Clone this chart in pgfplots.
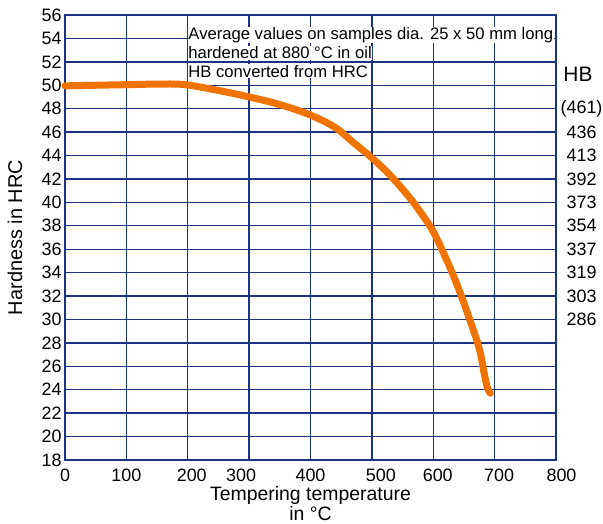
\documentclass[border=0pt]{standalone}
\usepackage{fontspec}
\setmainfont{Liberation Sans}
\usepackage{pgfplots}
\pgfplotsset{compat=1.18}
\definecolor{gridblue}{RGB}{28,50,130}
\definecolor{curveorange}{RGB}{240,115,0}

\begin{document}
\begin{tikzpicture}
\begin{axis}[
  name=main,
  scale only axis,
  width=491bp, height=445bp,
  xmin=0, xmax=800, ymin=18, ymax=56,
  xtick={0,100,...,800},
  xticklabels={0,100,\hspace*{8bp}200,300\hspace*{16bp},400,\hspace*{18bp}500,\hspace*{9bp}600,\hspace*{9bp}700,\hspace*{11bp}800},
  ytick={18,20,...,56},
  grid=major,
  major grid style={gridblue, line width=1.4bp},
  axis line style={gridblue, line width=1.5bp},
  major tick length=0pt,
  tick label style={font=\fontsize{18}{20}\selectfont},
  xticklabel style={yshift=-5bp},
  /pgf/number format/assume math mode=true,
  /pgf/number format/1000 sep={},
  xlabel={Tempering temperature\\in \textdegree C},
  xlabel style={at={(axis description cs:0.5,-0.097)}, anchor=center,
    align=center, font=\fontsize{19.5}{20}\selectfont},
  ylabel={Hardness in HRC},
  ylabel style={at={(axis description cs:-0.102,0.5)}, anchor=center,
    font=\fontsize{20}{22}\selectfont},
  clip=false,
]
\addplot[curveorange, line width=7bp, line cap=round, smooth, tension=0.6] coordinates {
(0,49.95) (50,50.0) (100,50.05) (150,50.1) (190,50.08) (220,49.85)
(260,49.45) (300,49.0) (350,48.35) (400,47.45) (440,46.4) (470,45.1)
(500,43.8) (530,42.3) (560,40.5) (580,39.1) (600,37.5) (620,35.3)
(640,32.8) (660,29.9) (675,27.5) (683,25.4) (688,24.2) (693,23.7)};

\node[font=\fontsize{16.7}{18}\selectfont, fill=white, inner sep=0.5bp, anchor=west] at (axis cs:200,54.29) {Average values on samples dia. 25 x 50 mm long};
\node[font=\fontsize{16.7}{18}\selectfont, fill=white, inner sep=0.5bp, anchor=west] at (axis cs:200,52.75) {hardened at 880 \textdegree C in oil};
\node[font=\fontsize{16.7}{18}\selectfont, fill=white, inner sep=0.5bp, anchor=west] at (axis cs:200,51.21) {HB converted from HRC};
\node[font=\fontsize{21}{24}\selectfont, xshift=22bp] at (axis cs:800,50.9) {HB};
\end{axis}

\begin{axis}[
  scale only axis,
  width=491bp, height=445bp,
  xmin=0, xmax=800, ymin=18, ymax=56,
  hide x axis,
  ytick pos=right,
  yticklabel pos=right,
  axis line style={draw=none},
  tick style={draw=none},
  ytick={30,32,...,48},
  yticklabels={286,303,319,337,354,373,392,413,436,(461)},
  major tick length=0pt,
  yticklabel style={font=\fontsize{18}{20}\selectfont, text width=42bp, align=center, xshift=1bp},
]
\addplot[draw=none] coordinates {(0,18) (800,56)};
\end{axis}

\pgfresetboundingbox
\path[use as bounding box] ([shift={(-65bp,-64bp)}]main.south west) rectangle ([shift={(47bp,15bp)}]main.north east);
\end{tikzpicture}
\end{document}
